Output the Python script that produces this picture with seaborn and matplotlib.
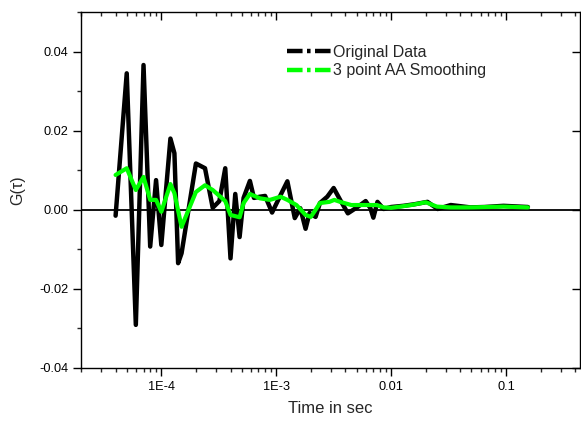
import numpy as np
import pandas as pd
import matplotlib
matplotlib.use("Agg")
import matplotlib.pyplot as plt
import seaborn as sns
from matplotlib.lines import Line2D
from matplotlib.ticker import FixedLocator, LogLocator, NullFormatter, MultipleLocator

# ---- data ----
t_orig = [4.0e-5, 5.0e-5, 6.0e-5, 7.0e-5, 8.0e-5, 9.0e-5, 1.0e-4, 1.2e-4, 1.3e-4, 1.4e-4,
          1.5e-4, 2.0e-4, 2.4e-4, 2.8e-4, 3.2e-4, 3.6e-4, 4.0e-4, 4.4e-4, 4.8e-4, 5.2e-4,
          5.9e-4, 6.4e-4, 7.2e-4, 8.0e-4, 9.2e-4, 1.09e-3, 1.25e-3, 1.45e-3, 1.62e-3, 1.8e-3,
          1.95e-3, 2.2e-3, 2.4e-3, 2.78e-3, 3.16e-3, 3.6e-3, 4.2e-3, 5.1e-3, 6.0e-3, 6.6e-3,
          7.0e-3, 7.6e-3, 8.6e-3, 1.0e-2, 1.28e-2, 1.6e-2, 2.07e-2, 2.54e-2, 3.3e-2, 4.9e-2,
          6.5e-2, 9.5e-2, 0.155]
g_orig = [-0.0015, 0.0345, -0.0291, 0.0366, -0.0093, 0.0075, -0.0089, 0.0180, 0.0143, -0.0135,
          -0.0110, 0.0117, 0.0105, 0.0005, 0.0022, 0.0105, -0.0123, 0.0040, -0.0069, 0.0030,
          0.0073, 0.0030, 0.0033, 0.0035, -0.0007, 0.0037, 0.0072, -0.0021, 0.0004, -0.0048,
          -0.0008, -0.0018, 0.0017, 0.0033, 0.0055, 0.0025, -0.0009, 0.0007, 0.0022, 0.0004,
          -0.0020, 0.0020, 0.0002, 0.0007, 0.0010, 0.0014, 0.0020, 0.0002, 0.0012, 0.0006,
          0.0007, 0.0010, 0.0007]

t_smooth = [4.0e-5, 5.0e-5, 6.0e-5, 7.0e-5, 8.0e-5, 9.0e-5, 1.0e-4, 1.2e-4, 1.3e-4, 1.5e-4,
            2.0e-4, 2.4e-4, 2.8e-4, 3.6e-4, 4.0e-4, 4.8e-4, 5.2e-4, 5.9e-4, 7.2e-4, 8.8e-4,
            1.09e-3, 1.25e-3, 1.5e-3, 1.8e-3, 2.0e-3, 2.2e-3, 2.4e-3, 2.9e-3, 3.2e-3, 3.6e-3,
            4.5e-3, 6.0e-3, 7.5e-3, 8.6e-3, 1.0e-2, 1.2e-2, 1.5e-2, 2.0e-2, 2.5e-2, 3.3e-2,
            5.0e-2, 9.5e-2, 0.155]
g_smooth = [0.0088, 0.0105, 0.0050, 0.0083, 0.0025, 0.0025, -0.0005, 0.0065, 0.0042, -0.0043,
            0.0045, 0.0062, 0.0050, 0.0022, -0.0013, -0.0019, 0.0017, 0.0040, 0.0029, 0.0025,
            0.0033, 0.0025, 0.0012, -0.0013, -0.0018, 0.0000, 0.0017, 0.0020, 0.0025, 0.0020,
            0.0012, 0.0012, 0.0012, 0.0006, 0.0005, 0.0008, 0.0012, 0.0019, 0.0008, 0.0006,
            0.0006, 0.0008, 0.0006]

series_labels = ["Original Data", "3 point AA Smoothing"]
series_colors = ["#000000", "#00FF00"]

xtick_vals = [1e-4, 1e-3, 1e-2, 1e-1]
xtick_labels = ["1E-4", "1E-3", "0.01", "0.1"]
ytick_vals = [-0.04, -0.02, 0.00, 0.02, 0.04]
ytick_labels = ["-0.04", "-0.02", "0.00", "0.02", "0.04"]

# ---- plotting ----
sns.set_style("ticks")
plt.rcParams["font.family"] = ["Liberation Sans", "DejaVu Sans"]

fig = plt.figure(figsize=(5.81, 4.21), dpi=100)
ax = fig.add_axes([81 / 581, 53 / 421, 499 / 581, 356 / 421])

df_o = pd.DataFrame({"t": t_orig, "g": g_orig})
df_s = pd.DataFrame({"t": t_smooth, "g": g_smooth})

ax.axhline(0, color="black", lw=1.3, zorder=1)
sns.lineplot(data=df_o, x="t", y="g", ax=ax, color=series_colors[0], lw=3.2,
             sort=False, estimator=None, zorder=2)
sns.lineplot(data=df_s, x="t", y="g", ax=ax, color=series_colors[1], lw=3.0,
             sort=False, estimator=None, zorder=3)

ax.set_xscale("log")
ax.set_xlim(2.0e-5, 0.44)
ax.set_ylim(-0.04, 0.05)

ax.xaxis.set_major_locator(FixedLocator(xtick_vals))
ax.set_xticklabels(xtick_labels)
ax.xaxis.set_minor_locator(LogLocator(base=10, subs=np.arange(2, 10)))
ax.xaxis.set_minor_formatter(NullFormatter())
ax.yaxis.set_major_locator(FixedLocator(ytick_vals))
ax.set_yticklabels(ytick_labels)
ax.yaxis.set_minor_locator(MultipleLocator(0.01))

for s in ax.spines.values():
    s.set_visible(True)
    s.set_linewidth(1.0)
    s.set_color("black")

ax.tick_params(axis="both", which="major", direction="out", length=6, width=1,
               labelsize=9.2, colors="black", pad=3)
ax.tick_params(axis="both", which="minor", direction="out", length=3, width=1)
ax.tick_params(axis="x", which="both", top=True)
ax.tick_params(axis="y", which="major", right=True)
ax.tick_params(axis="y", which="minor", right=False)

# mirrored ticks on top/right point inward
for tk in ax.xaxis.get_major_ticks() + ax.xaxis.get_minor_ticks():
    tk.tick2line.set_marker(matplotlib.markers.TICKDOWN)
for tk in ax.yaxis.get_major_ticks():
    tk.tick2line.set_marker(matplotlib.markers.TICKLEFT)

ax.set_xlabel("Time in sec", fontsize=12, labelpad=6)
ax.set_ylabel("G(τ)", fontsize=11.5, labelpad=10)

handles = [Line2D([0], [0], color=c, lw=3.2, linestyle=(0, (3.5, 1.0, 0.8, 1.0)))
           for c in series_colors]
ax.legend(handles, series_labels, loc="upper left", bbox_to_anchor=(0.40, 0.925),
          frameon=False, fontsize=11.5, handlelength=2.8, handletextpad=0.05,
          labelspacing=0.2, borderaxespad=0)

fig.savefig("out.png", dpi=100)
